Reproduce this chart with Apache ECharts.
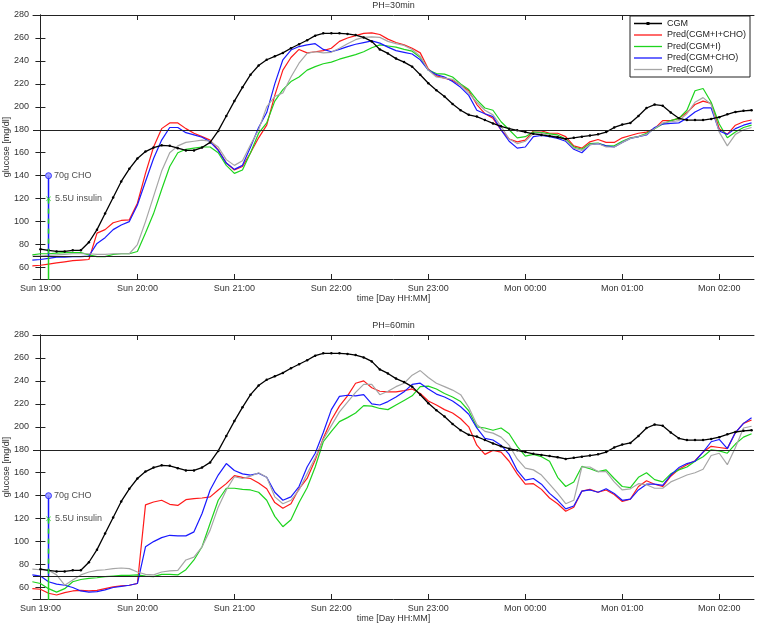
<!DOCTYPE html>
<html><head><meta charset="utf-8">
<script src="https://cdn.jsdelivr.net/npm/echarts@6/dist/echarts.min.js"></script>
<style>html,body{margin:0;padding:0;background:#fff}#c{width:757px;height:625px}</style>
</head><body><div id="c"></div>
<script>
// minutes after Sun 19:00
const cgmTimes = [0,5,10,15,20,25,30,35,40,45,50,55,60,65,70,75,80,85,90,95,100,105,110,115,120,125,130,135,140,145,150,155,160,165,170,175,180,185,190,195,200,205,210,215,220,225,230,235,240,245,250,255,260,265,270,275,280,285,290,295,300,305,310,315,320,325,330,335,340,345,350,355,360,365,370,375,380,385,390,395,400,405,410,415,420,425,430,435,440];
const predTimes = [-5].concat(cgmTimes);

const cgm = [76,75,74,74,75,75,82,93,107,121,
 135,146,155,161,164.5,166.5,166,164,162,162,
 164.5,169,179,192,205,217,228,236,241,244,
 247,251,254.5,258,262,264,264,264,263.5,262.5,
 260.5,257,250,246.5,242,239,235,228,220.5,214.5,
 209,202.5,197,193,191.5,188.5,185.5,183,181,179.5,
 178,176.5,175.5,174.5,173.5,172,173,174,175,176,
 178,182,184.5,186,192,199,202,201,195,190,
 188.5,188.5,188.5,189.5,191,193.5,195.5,196.5,197];

// PH = 30 min
const ph30Full = [61.5,62,63,64,65,66,66.5,67,90,93,
 99,101,101.5,116,142,165,181,186,186,181,
 177,174,171,162.5,151,145,148,160,173,184,
 210,232,243,250,247,248,249,251,257,260,
 262,264,264.5,263,259,256,254,251,247,233,
 227,225,223,219,214,202,194,190,180,172,
 169.5,171,179,179,177,177,174,166,164,169.5,
 171.5,169,169,173,175,177,178,181,188,188,
 190,195,202,205,203,181,176,184,187,188.5];
const ph30Ins = [71,72,72,72.5,73,73,73,71,69.5,69.5,
 71.5,72,72,74,90,107,128,148,160,163,
 164,165,165,160,149,142,145,160,177,186,
 205,215,222,226,232,235,237.5,239,241.5,243.5,
 245.5,248,251.5,254,253,252,250,248.5,243,232,
 229,228.5,226,220,215,206,199,197,187,180,
 173,174,178,177.5,176.5,175.5,172,165,163,168,
 168.5,166,166,170,173,174,177,181,185,188,
 190,197,214,216,204,185,173,178,182,184];
const ph30Cho = [66.5,67,68,69,69,69.5,69.5,70,81,86,
 93,97,100,114.5,135,155,171,182,182,177.5,
 175.5,173.5,169.5,162,151,145.5,149,165,182,195,
 220,241,249.5,252.5,254,255,250,248,250,252.5,
 254.5,256,257.5,255.5,252,249,247.5,246,241,232,
 228,226,222,217,210,197,194,191.5,180,170,
 164,165,174,175,174,172.5,170,163,160,167,
 168,166,165,169,172.5,174,175.5,182,185,185.5,
 186,190,195.5,199,199,179,176,181,184,186];
const ph30Cgm = [70,70,70.5,71,71.5,72,72,72,71.5,71.5,
 72,72,72,80,100,122,144,160,166,169,
 170,171,170,165,154,149,153,167,180,200,
 209,212,226,238,246.5,248,247,247.5,251,255,
 258.5,260.5,261,260.5,257,255,253.5,250,244,232,
 226,225,224,219,212,204,197,193,183,172,
 168,170,177,177,175,174,171,164,162,167,
 168,165,165,169,172.5,174,176,181,186,187,
 188,194,204,208,202,178,166,176,180,182];

// PH = 60 min
const ph60Full = [59,58.5,55,53.5,55.5,57,57.5,57,57.5,59,
 60.5,61.5,62,63.5,132,134.5,136,132.5,131.5,136.5,
 137.5,138,139,145,150.5,157.5,156,155,151,146,
 134,129,133,146,155,171,190,206,218,227,
 238,240,234,231,230.5,230.5,231.5,233,229,222.5,
 219,215,212,207,200,184,176,179.5,178,170,
 159,150,150.5,145.5,138,133,126.5,130,144,145.5,
 143,145,141,135,137,148,153,150,148,157,
 163,167,170.5,178,183,182,181,195,203,206];
const ph60Ins = [65,63.5,59,56,59,65,67,68,68.5,69.5,
 70,70.5,70.5,71,70,69.5,71.5,71.5,71,75.5,
 84,95.5,116,136,146.5,146.5,145.5,145,143,136,
 122,113,119,134,147,165,187,196,204.5,208,
 212,218.5,218,216,215,219,223,227,235,235.5,
 233,229,226,222,214,200,199,197,199,194,
 183,174.5,176,174,170,156,148,152,165.5,163.5,
 161,162.5,155,148,147,156,160,154,152,159,
 162.5,165,170,174,180,179,177,185,191,194];
const ph60Cho = [71,70,65,63,62,60,57,56,56.5,58,
 60,61,62,63.5,95.5,100,103.5,105.5,105,105,
 108.5,124.5,145,158,168,162,159,158,159.5,156,
 143,136,139,148,165,177,195,215,226.5,227.5,
 227,228,220,219,222,226,230.5,237,238,233,
 228.5,226,222.5,217.5,211,199,190,188.5,184,176,
 162,153.5,155,150,142,136,128.5,131,144,145,
 143,146,142,136,137,145,150,150,149,158,
 164.5,168,170,178,187,189,181,195,203,208];
const ph60Cgm = [76,75.5,75,71,62,66.5,71,73.5,75,75.5,
 76.5,77,76.5,73.5,71.5,71,73.5,74.5,75,84,
 86.5,95.5,110,130,145,156.5,155,157,160,156,
 139,133,136,145,159,173,189,201,213,221.5,
 230,237,237,228,231,235,238,245,249,243,
 238,235,232,228,217,202,196,194.5,191,184,
 172,164,162.5,158,150,142,133,136,165,165,
 161,161,152,145,146,150.5,149.5,146.5,146.5,152,
 155,158,160,163,175,177,167,182,199,200.5];

const seriesNames = ['CGM','Pred(CGM+I+CHO)','Pred(CGM+I)','Pred(CGM+CHO)','Pred(CGM)'];
const seriesColors = ['#000000','#ff1a1a','#1ed41e','#1a1aff','#a6a6a6'];
const panelTitles = ['PH=30min','PH=60min'];
const xTickValues = [0,60,120,180,240,300,360,420];
const xTickLabels = ['Sun 19:00','Sun 20:00','Sun 21:00','Sun 22:00','Sun 23:00','Mon 00:00','Mon 01:00','Mon 02:00'];
const yTickValues = [60,80,100,120,140,160,180,200,220,240,260,280];
const thresholds = [70,180];
const eventTime = 5;        // meal + bolus time (min after 19:00)
const choLevel = 140;       // marker height for CHO
const insulinLevel = 120;   // marker height for insulin
const stemBase = 0;
const eventLabels = ['70g CHO','5.5U insulin'];

const FONT = 'Liberation Sans, Arial, sans-serif';
const X_MIN = -4.6, X_MAX = 441.5, Y_MIN = 50, Y_MAX = 280;
const grids = [
  {left:33, top:15, width:721, height:264, outerBoundsMode:'none', containLabel:false},
  {left:33, top:335, width:721, height:264, outerBoundsMode:'none', containLabel:false}
];
const zip = (ts, vs) => ts.map((t,i)=>[t, vs[i]]);

const LINE_ICON = 'path://M0 0H28V1.3H0Z';
const CGM_ICON = 'path://M0 0.85H28V2.15H0Z M12.5 0H15.5V3H12.5Z';

const xAxes = [], yAxes = [], series = [], titles = [];
grids.forEach((g, gi) => {
  const axLine = {show:true, lineStyle:{color:'#222', width:1}};
  const tick = {show:true, inside:true, length:5, customValues:xTickValues, lineStyle:{color:'#222'}};
  xAxes.push({type:'value', gridIndex:gi, position:'bottom', min:X_MIN, max:X_MAX,
    axisLine:axLine, axisTick:tick, splitLine:{show:false},
    axisLabel:{customValues:xTickValues, formatter:v=>xTickLabels[xTickValues.indexOf(v)], fontSize:9, color:'#333', fontFamily:FONT, margin:5},
    name:'time [Day HH:MM]', nameLocation:'middle', nameGap:15, nameMoveOverlap:false,
    nameTextStyle:{fontSize:9, color:'#333', fontFamily:FONT}});
  xAxes.push({type:'value', gridIndex:gi, position:'top', min:X_MIN, max:X_MAX,
    axisLine:axLine, axisTick:tick, splitLine:{show:false}, axisLabel:{show:false}});
  const ytick = {show:true, inside:true, length:5, customValues:yTickValues, lineStyle:{color:'#222'}};
  yAxes.push({type:'value', gridIndex:gi, position:'left', min:Y_MIN, max:Y_MAX,
    axisLine:axLine, axisTick:ytick, splitLine:{show:false},
    axisLabel:{customValues:yTickValues, fontSize:9, color:'#333', fontFamily:FONT, margin:4},
    name:'glucose [mg/dl]', nameLocation:'middle', nameGap:22, nameMoveOverlap:false,
    nameTextStyle:{fontSize:9, color:'#333', fontFamily:FONT}});
  yAxes.push({type:'value', gridIndex:gi, position:'right', min:Y_MIN, max:Y_MAX,
    axisLine:axLine, axisTick:ytick, splitLine:{show:false}, axisLabel:{show:false}});
  titles.push({text:panelTitles[gi], left:g.left + g.width/2, top:g.top - 14, textAlign:'center', padding:0,
    textStyle:{fontSize:9, fontWeight:'normal', color:'#333', fontFamily:FONT}});

  const xi = gi*2, yi = gi*2;
  const preds = gi === 0 ? [ph30Full, ph30Ins, ph30Cho, ph30Cgm] : [ph60Full, ph60Ins, ph60Cho, ph60Cgm];
  series.push({type:'line', name:seriesNames[0], xAxisIndex:xi, yAxisIndex:yi, data:zip(cgmTimes, cgm),
    symbol:'circle', symbolSize:2.5, showSymbol:true, itemStyle:{color:'#000'}, lineStyle:{color:'#000', width:1.3},
    animation:false, z:3,
    markLine:{silent:true, symbol:'none', label:{show:false}, animation:false,
      lineStyle:{color:'#222', width:1.2, type:'solid'}, data:thresholds.map(v=>({yAxis:v}))}});
  preds.forEach((vals, k) => {
    series.push({type:'line', name:seriesNames[k+1], xAxisIndex:xi, yAxisIndex:yi, data:zip(predTimes, vals),
      symbol:'none', itemStyle:{color:seriesColors[k+1]}, lineStyle:{color:seriesColors[k+1], width:1.2},
      animation:false, z:2});
  });
  // event stems
  series.push({type:'line', xAxisIndex:xi, yAxisIndex:yi, data:[[eventTime, thresholds[0]],[eventTime, stemBase]],
    symbol:'none', lineStyle:{color:'#1ed41e', width:1.5}, animation:false, z:4});
  series.push({type:'line', xAxisIndex:xi, yAxisIndex:yi, data:[[eventTime, choLevel],[eventTime, thresholds[0]]],
    symbol:'none', lineStyle:{color:'#1a1aff', width:1.5}, animation:false, z:4});
  series.push({type:'line', xAxisIndex:xi, yAxisIndex:yi, data:[[eventTime, insulinLevel],[eventTime, thresholds[0]]],
    symbol:'none', lineStyle:{color:'#1ed41e', width:1.5, type:[5,5]}, animation:false, z:5});
  series.push({type:'scatter', xAxisIndex:xi, yAxisIndex:yi, data:[[eventTime, choLevel]],
    symbol:'circle', symbolSize:6, itemStyle:{color:'#8f8fff', borderColor:'#1a1aff', borderWidth:1}, animation:false, z:6,
    label:{show:true, position:'right', distance:2, formatter:eventLabels[0], fontSize:9, color:'#222', fontFamily:FONT}});
  series.push({type:'scatter', xAxisIndex:xi, yAxisIndex:yi, data:[[eventTime, insulinLevel]],
    symbol:'path://M0 1L1 0L5 4L9 0L10 1L6 5L10 9L9 10L5 6L1 10L0 9L4 5Z', symbolSize:5,
    itemStyle:{color:'#1ed41e'}, animation:false, z:6,
    label:{show:true, position:'right', distance:4, formatter:eventLabels[1], fontSize:9, color:'#222', fontFamily:FONT}});
});

const chart = echarts.init(document.getElementById('c'), null, {renderer:'canvas'});
chart.setOption({
  animation:false,
  backgroundColor:'#fff',
  title:titles,
  grid:grids,
  xAxis:xAxes,
  yAxis:yAxes,
  legend:{data:seriesNames.map((n,i)=>({name:n, icon: i === 0 ? CGM_ICON : LINE_ICON})),
    orient:'vertical', left:630, top:16, padding:[3,4,3,4], itemGap:2.5,
    itemWidth:28, itemHeight:10, backgroundColor:'#fff', borderColor:'#222', borderWidth:1, borderRadius:0,
    textStyle:{fontSize:9, color:'#222', fontFamily:FONT}, selectedMode:false},
  series:series
});
</script></body></html>
